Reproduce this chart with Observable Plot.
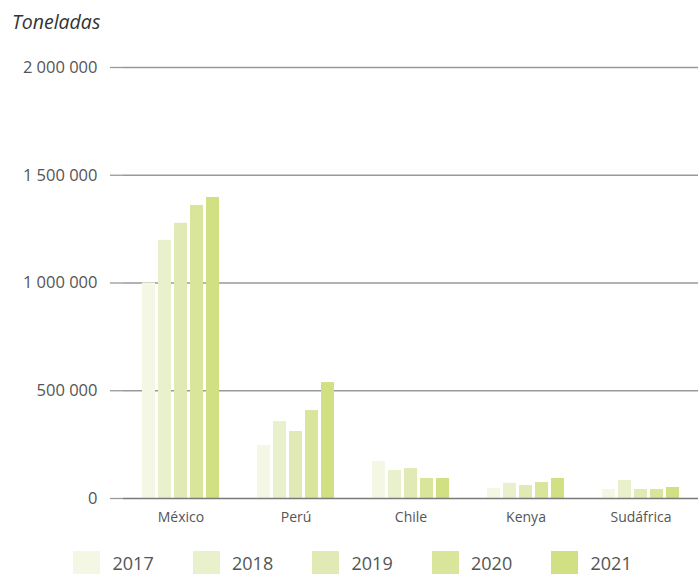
<!DOCTYPE html>
<html>
<head>
<meta charset="utf-8">
<script src="https://cdn.jsdelivr.net/npm/d3@7"></script>
<script src="https://cdn.jsdelivr.net/npm/@observablehq/plot@0.6"></script>
<style>
  body { margin: 0; background: #fff; font-family: "Open Sans", "Noto Sans", sans-serif; }
  #wrap { width: 698px; height: 574px; position: relative; overflow: hidden; }
  #title { height: 40px; box-sizing: border-box; padding: 9px 0 0 12px; font-size: 19.5px; font-style: italic; color: #333; line-height: 26px; }
  #legend { display: flex; padding: 13px 0 0 73px; }
  .item { display: flex; align-items: center; width: 119.5px; height: 24px; }
  .sw { width: 27px; height: 24px; margin-right: 12.5px; flex: none; }
  .lab { font-size: 18px; color: #555; line-height: 24px; }
  svg { display: block; }
</style>
</head>
<body>
<div id="wrap">
  <div id="title">Toneladas</div>
  <div id="chart"></div>
  <div id="legend"></div>
</div>
<script>
const countries = ["México", "Perú", "Chile", "Kenya", "Sudáfrica"];
const years = ["2017", "2018", "2019", "2020", "2021"];
const v2017 = [1000000, 246000, 172000, 46000, 42000];
const v2018 = [1198000, 357000, 130000, 70000, 84000];
const v2019 = [1277000, 311000, 139000, 60000, 42000];
const v2020 = [1360000, 408000, 93000, 74000, 42000];
const v2021 = [1397000, 538000, 93000, 93000, 51000];
const yTicks = [0, 500000, 1000000, 1500000, 2000000];
const colors = ["#f4f7e3", "#e9f0cc", "#e1eab5", "#d9e59b", "#d1e083"];

const series = [v2017, v2018, v2019, v2020, v2021];
const data = [];
countries.forEach((c, i) => {
  years.forEach((y, j) => data.push({country: c, year: y, value: series[j][i]}));
});

const fmt = d => d3.format(",")(d).replace(/,/g, " ");

const chart = Plot.plot({
  width: 698,
  height: 498,
  marginTop: 27,
  marginBottom: 40,
  marginLeft: 122,
  marginRight: 0,
  style: {fontFamily: '"Open Sans", "Noto Sans", sans-serif', color: "#555"},
  fx: {domain: countries, padding: 0, label: null},
  x: {domain: years, paddingInner: 0.16, paddingOuter: 1.0, axis: null},
  y: {domain: [0, 2000000], label: null},
  color: {domain: years, range: colors},
  marks: [
    Plot.ruleY(yTicks.slice(1), {stroke: "#999", strokeWidth: 1.3}),
    Plot.barY(data, {fx: "country", x: "year", y: "value", fill: "year"}),
    Plot.ruleY([0], {stroke: "#7a7a7a", strokeWidth: 1.5}),
    Plot.axisY({ticks: yTicks, tickFormat: fmt, tickSize: 13, tickPadding: 13, stroke: "#999", strokeWidth: 1.3, strokeOpacity: 1, fontSize: 16.5, fill: "#555", label: null}),
    Plot.axisFx({anchor: "bottom", tickSize: 0, tickPadding: 14, fontSize: 14, fill: "#555", label: null})
  ]
});
document.getElementById("chart").appendChild(chart);

const legend = document.getElementById("legend");
years.forEach((y, i) => {
  const item = document.createElement("div");
  item.className = "item";
  const sw = document.createElement("div");
  sw.className = "sw";
  sw.style.background = colors[i];
  const lab = document.createElement("span");
  lab.className = "lab";
  lab.textContent = y;
  item.appendChild(sw);
  item.appendChild(lab);
  legend.appendChild(item);
});
</script>
</body>
</html>
